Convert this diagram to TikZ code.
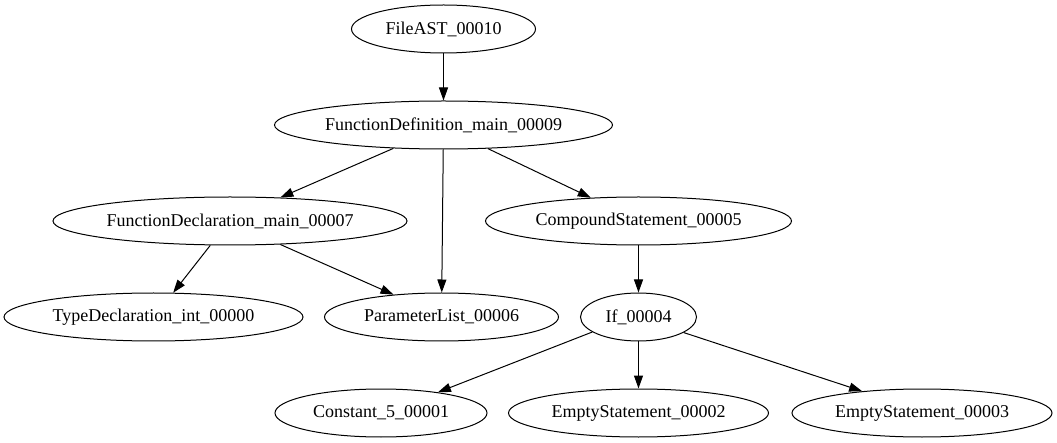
\documentclass[tikz,border=0pt]{standalone}
\usepackage{fontspec}
\setmainfont{Liberation Serif}
\usetikzlibrary{shapes.geometric,arrows.meta}
\tikzset{
  ast/.style={draw, ellipse, line width=1pt, inner sep=0pt, minimum height=48pt,
    font=\fontsize{18}{20}\selectfont},
  edge/.style={line width=1pt, -{Triangle[length=13pt,width=9pt]}}
}
\begin{document}
\begin{tikzpicture}[x=1pt,y=-1pt]
\useasboundingbox (0,0) rectangle (1057,443);
\node[ast, minimum width=184pt] (fa) at (443.5,29) {FileAST\_00010};
\node[ast, minimum width=338pt] (fd) at (443.5,125) {FunctionDefinition\_main\_00009};
\node[ast, minimum width=354pt] (fdecl) at (230,221) {FunctionDeclaration\_main\_00007};
\node[ast, minimum width=306pt] (cs) at (638.5,221) {CompoundStatement\_00005};
\node[ast, minimum width=299pt] (td) at (153.5,317) {TypeDeclaration\_int\_00000};
\node[ast, minimum width=234pt] (pl) at (441.5,317) {ParameterList\_00006};
\node[ast, minimum width=116pt] (if) at (638.5,317) {If\_00004};
\node[ast, minimum width=212pt] (c5) at (381,413) {Constant\_5\_00001};
\node[ast, minimum width=260pt] (e2) at (638.5,413) {EmptyStatement\_00002};
\node[ast, minimum width=260pt] (e3) at (922,413) {EmptyStatement\_00003};

\draw[edge] (fa) -- (fd);
\draw[edge] (fd.205) -- (fdecl.25);
\draw[edge] (fd) -- (pl);
\draw[edge] (fd.332) -- (cs.154);
\draw[edge] (fdecl.231.5) -- (td.51);
\draw[edge] (fdecl.335) -- (pl.155.5);
\draw[edge] (cs) -- (if);
\draw[edge] (if.198.6) -- (c5.20);
\draw[edge] (if) -- (e2);
\draw[edge] (if.341.4) -- (e3.160.5);
\end{tikzpicture}
\end{document}
